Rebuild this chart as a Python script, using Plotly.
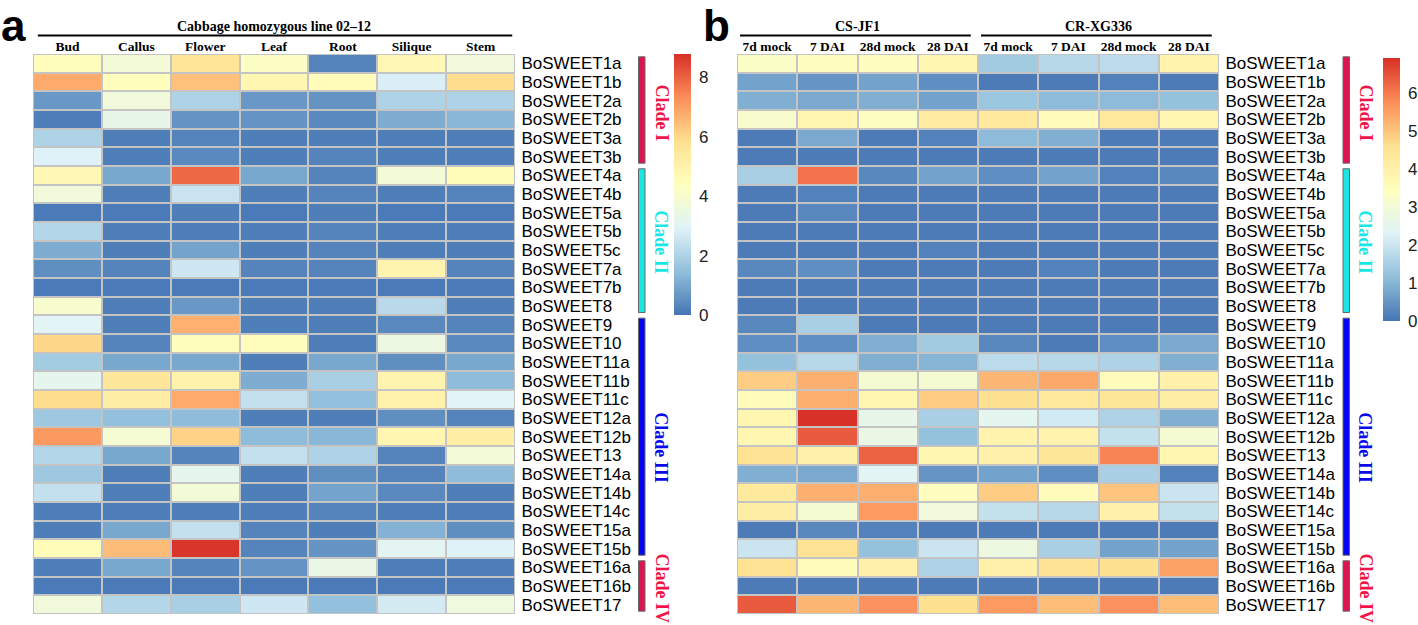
import plotly.graph_objects as go

W, H = 1418, 625

genes = ["BoSWEET1a", "BoSWEET1b", "BoSWEET2a", "BoSWEET2b", "BoSWEET3a", "BoSWEET3b",
         "BoSWEET4a", "BoSWEET4b", "BoSWEET5a", "BoSWEET5b", "BoSWEET5c", "BoSWEET7a",
         "BoSWEET7b", "BoSWEET8", "BoSWEET9", "BoSWEET10", "BoSWEET11a", "BoSWEET11b",
         "BoSWEET11c", "BoSWEET12a", "BoSWEET12b", "BoSWEET13", "BoSWEET14a", "BoSWEET14b",
         "BoSWEET14c", "BoSWEET15a", "BoSWEET15b", "BoSWEET16a", "BoSWEET16b", "BoSWEET17"]

tissues = ["Bud", "Callus", "Flower", "Leaf", "Root", "Silique", "Stem"]
title_a = "Cabbage homozygous line 02\u201312"

conditions = ["7d mock", "7 DAI", "28d mock", "28 DAI", "7d mock", "7 DAI", "28d mock", "28 DAI"]
cultivars = ["CS-JF1", "CR-XG336"]
cultivar_cols = [(0, 3), (4, 7)]

expr_a = [
    [4.5, 3.8, 5.6, 4.3, 0.3, 4.7, 3.7],
    [6.8, 4.5, 6.4, 4.8, 4.6, 2.8, 5.9],
    [0.7, 3.7, 2.0, 0.7, 0.6, 2.0, 2.0],
    [0.2, 3.3, 0.6, 0.6, 0.4, 1.1, 1.3],
    [2.0, 0.2, 0.3, 0.2, 0.2, 0.2, 0.2],
    [2.9, 0.2, 0.4, 0.2, 0.3, 0.2, 0.2],
    [4.7, 1.0, 7.9, 1.0, 0.3, 3.8, 4.6],
    [3.7, 0.2, 2.5, 0.2, 0.3, 0.2, 0.3],
    [0.1, 0.1, 0.2, 0.1, 0.2, 0.1, 0.1],
    [2.1, 0.2, 0.2, 0.2, 0.3, 0.2, 0.2],
    [1.1, 0.2, 0.9, 0.2, 0.3, 0.2, 0.2],
    [0.5, 0.3, 2.6, 0.3, 0.3, 4.9, 0.3],
    [0.1, 0.1, 0.1, 0.1, 0.1, 0.1, 0.1],
    [4.0, 0.2, 0.7, 0.2, 0.2, 2.2, 0.2],
    [3.0, 0.2, 6.7, 0.2, 0.2, 0.4, 0.3],
    [6.0, 0.3, 4.5, 4.5, 0.2, 3.5, 0.4],
    [1.8, 1.0, 1.0, 0.2, 1.0, 0.5, 1.0],
    [3.2, 5.5, 5.0, 1.1, 1.9, 4.9, 1.4],
    [5.9, 5.2, 6.8, 2.4, 1.5, 5.0, 3.0],
    [1.7, 1.5, 1.4, 0.2, 0.2, 0.5, 0.3],
    [7.1, 3.9, 6.1, 1.4, 1.3, 4.8, 5.2],
    [2.1, 1.0, 0.3, 2.4, 2.0, 0.3, 3.8],
    [1.7, 0.2, 3.2, 0.2, 0.5, 0.3, 1.4],
    [2.4, 0.2, 3.8, 0.2, 0.9, 0.4, 0.2],
    [0.2, 0.2, 0.2, 0.2, 0.3, 0.2, 0.2],
    [0.2, 1.0, 2.4, 0.3, 0.2, 1.2, 0.5],
    [4.6, 6.5, 8.7, 0.3, 0.6, 3.1, 2.9],
    [0.2, 1.0, 0.3, 0.6, 3.4, 0.2, 0.2],
    [0.1, 0.1, 0.1, 0.1, 0.1, 0.1, 0.1],
    [3.7, 2.1, 1.9, 2.6, 1.5, 2.7, 3.6],
]

expr_b = [
    [3.3, 3.5, 3.5, 3.8, 1.4, 1.7, 1.8, 3.9],
    [0.7, 0.5, 0.7, 0.4, 0.1, 0.1, 0.2, 0.1],
    [0.9, 0.8, 0.9, 0.7, 1.3, 1.1, 1.1, 1.2],
    [3.2, 3.8, 3.4, 4.2, 4.3, 3.6, 4.3, 3.8],
    [0.1, 0.8, 0.1, 0.2, 1.1, 0.9, 0.1, 0.1],
    [0.1, 0.1, 0.1, 0.1, 0.1, 0.1, 0.1, 0.1],
    [1.5, 6.1, 0.3, 0.7, 0.4, 0.7, 0.2, 0.3],
    [0.1, 0.2, 0.1, 0.1, 0.1, 0.1, 0.1, 0.1],
    [0.1, 0.3, 0.1, 0.1, 0.1, 0.1, 0.1, 0.1],
    [0.1, 0.1, 0.1, 0.1, 0.1, 0.1, 0.1, 0.1],
    [0.1, 0.1, 0.1, 0.2, 0.1, 0.1, 0.1, 0.1],
    [0.3, 0.4, 0.1, 0.1, 0.1, 0.2, 0.1, 0.1],
    [0.1, 0.1, 0.1, 0.1, 0.1, 0.1, 0.1, 0.1],
    [0.1, 0.1, 0.1, 0.1, 0.1, 0.1, 0.1, 0.1],
    [0.3, 1.5, 0.1, 0.1, 0.1, 0.1, 0.1, 0.1],
    [0.4, 0.4, 0.9, 1.4, 0.3, 0.1, 0.4, 0.8],
    [1.2, 1.7, 0.9, 1.0, 1.8, 1.7, 1.6, 0.9],
    [4.9, 5.3, 3.1, 3.1, 5.2, 5.4, 3.6, 4.0],
    [3.6, 5.3, 3.8, 4.9, 4.6, 4.3, 4.4, 4.1],
    [3.8, 6.9, 2.6, 1.5, 2.5, 2.1, 1.6, 0.9],
    [3.8, 6.4, 2.7, 1.2, 3.9, 3.9, 1.9, 3.1],
    [4.5, 4.0, 6.3, 3.8, 4.0, 4.4, 5.9, 3.8],
    [0.9, 0.8, 2.4, 0.5, 0.7, 0.4, 1.5, 0.2],
    [4.3, 5.3, 5.3, 3.5, 4.9, 3.6, 5.0, 2.0],
    [4.1, 3.1, 5.6, 2.9, 1.9, 1.7, 4.0, 1.9],
    [0.1, 0.3, 0.2, 0.1, 0.1, 0.1, 0.1, 0.1],
    [2.0, 4.5, 1.2, 2.0, 2.8, 1.5, 0.7, 0.7],
    [4.5, 3.6, 4.0, 1.6, 4.0, 4.5, 4.6, 5.5],
    [0.1, 0.1, 0.1, 0.1, 0.1, 0.1, 0.1, 0.1],
    [6.4, 5.2, 5.7, 4.6, 5.6, 5.1, 5.7, 5.1],
]

clade_names = ["Clade I", "Clade II", "Clade III", "Clade IV"]
clade_rows = [(0, 5), (6, 13), (14, 26), (27, 29)]
clade_bar_colors = ["#DC1450", "#1AE6E6", "#0505F0", "#DC1450"]
clade_text_colors = ["#F01446", "#1AE6E6", "#0A0AEB", "#F01446"]
clade_text_shift = [-3, -1, -11, -2]

scale_max_a = 8.78
scale_max_b = 6.93

# pheatmap default palette: rev(RdYlBu, 7)
palette = ["#4575B4", "#91BFDB", "#E0F3F8", "#FFFFBF", "#FEE090", "#FC8D59", "#D73027"]
colorscale = [[i / (len(palette) - 1), c] for i, c in enumerate(palette)]

def px_x(p):
    return p / W

def px_y(p):
    return 1 - p / H

dom_ya = [px_y(614), px_y(54)]
dom_xa = [px_x(33), px_x(515)]
dom_xb = [px_x(737), px_x(1219)]

fig = go.Figure()

fig.add_trace(go.Heatmap(
    z=expr_a, x=list(range(len(tissues))), y=list(range(len(genes))),
    coloraxis="coloraxis", xgap=2, ygap=2, xaxis="x", yaxis="y",
))
fig.add_trace(go.Heatmap(
    z=expr_b, x=list(range(len(conditions))), y=list(range(len(genes))),
    coloraxis="coloraxis2", xgap=2, ygap=2, xaxis="x2", yaxis="y2",
))

grid_bg = "#C4C4C4"
col_font = dict(family="Liberation Serif, Times New Roman, serif", size=13.5, color="black")
row_font = dict(family="Liberation Sans, Arial, sans-serif", size=17, color="black")

common_x = dict(side="top", showgrid=False, zeroline=False, showline=False,
                ticks="outside", ticklen=1, tickcolor="rgba(0,0,0,0)",
                ticklabelstandoff=-4,
                tickfont=col_font, fixedrange=True, automargin=False)
common_y = dict(side="right", showgrid=False, zeroline=False, showline=False,
                ticks="outside", ticklen=2, tickcolor="rgba(0,0,0,0)",
                tickfont=row_font, range=[len(genes) - 0.5, -0.5],
                tickvals=list(range(len(genes))), ticktext=genes, fixedrange=True,
                automargin=False)

fig.update_layout(
    width=W, height=H,
    margin=dict(l=0, r=0, t=0, b=0, autoexpand=False),
    paper_bgcolor="white",
    plot_bgcolor=grid_bg,
    showlegend=False,
    xaxis=dict(domain=dom_xa, anchor="y", range=[-0.5, len(tissues) - 0.5],
               tickvals=list(range(len(tissues))),
               ticktext=["<b>%s</b>" % t for t in tissues], **common_x),
    yaxis=dict(domain=dom_ya, anchor="x", **common_y),
    xaxis2=dict(domain=dom_xb, anchor="y2", range=[-0.5, len(conditions) - 0.5],
                tickvals=list(range(len(conditions))),
                ticktext=["<b>%s</b>" % t for t in conditions], **common_x),
    yaxis2=dict(domain=dom_ya, anchor="x2", **common_y),
    coloraxis=dict(
        colorscale=colorscale, cmin=0, cmax=scale_max_a,
        colorbar=dict(
            x=px_x(674), xanchor="left", xpad=0,
            y=px_y(54), yanchor="top", ypad=0,
            lenmode="pixels", len=261, thicknessmode="pixels", thickness=17,
            outlinewidth=0, tickmode="linear", tick0=0, dtick=2,
            ticks="outside", ticklen=5, tickcolor="rgba(0,0,0,0)",
            tickfont=dict(family="Liberation Sans, Arial, sans-serif", size=17, color="#222"),
        ),
    ),
    coloraxis2=dict(
        colorscale=colorscale, cmin=0, cmax=scale_max_b,
        colorbar=dict(
            x=px_x(1383), xanchor="left", xpad=0,
            y=px_y(58), yanchor="top", ypad=0,
            lenmode="pixels", len=263, thicknessmode="pixels", thickness=17,
            outlinewidth=0, tickmode="linear", tick0=0, dtick=1,
            ticks="outside", ticklen=5, tickcolor="rgba(0,0,0,0)",
            tickfont=dict(family="Liberation Sans, Arial, sans-serif", size=17, color="#222"),
        ),
    ),
)

shapes = []
annotations = []
head_font = dict(family="Liberation Serif, Times New Roman, serif", size=14, color="black")
line_y = px_y(35.5)
label_y = px_y(26.5)

# panel a header
shapes.append(dict(type="line", xref="x", yref="paper", x0=-0.43, x1=len(tissues) - 0.54,
                   y0=line_y, y1=line_y, line=dict(color="black", width=2)))
annotations.append(dict(xref="x", yref="paper", x=(len(tissues) - 1) / 2, y=label_y,
                        text="<b>%s</b>" % title_a, showarrow=False, font=head_font,
                        xanchor="center", yanchor="middle"))
# panel b header
for name, (c0, c1) in zip(cultivars, cultivar_cols):
    shapes.append(dict(type="line", xref="x2", yref="paper", x0=c0 - 0.45, x1=c1 + 0.38,
                       y0=line_y, y1=line_y, line=dict(color="black", width=2)))
    annotations.append(dict(xref="x2", yref="paper", x=(c0 + c1) / 2, y=label_y,
                            text="<b>%s</b>" % name, showarrow=False, font=head_font,
                            xanchor="center", yanchor="middle"))

# clade bars and labels
clade_font = "Liberation Serif, Times New Roman, serif"
for yref, bar_x, text_x in [("y", 638.5, 661.5), ("y2", 1343, 1365.5)]:
    for name, (r0, r1), bc, tc, dy in zip(clade_names, clade_rows, clade_bar_colors,
                                           clade_text_colors, clade_text_shift):
        shapes.append(dict(type="rect", xref="paper", yref=yref,
                           x0=px_x(bar_x), x1=px_x(bar_x + 6.5),
                           y0=r0 - 0.5 + 0.15, y1=r1 + 0.5 - 0.15,
                           fillcolor=bc, line=dict(color="#666666", width=1)))
        annotations.append(dict(xref="paper", yref=yref, x=px_x(text_x), y=(r0 + r1) / 2,
                                yshift=dy, text="<b>%s</b>" % name, textangle=90,
                                showarrow=False, xanchor="center", yanchor="middle",
                                font=dict(family=clade_font, size=18, color=tc)))

# panel letters
for letter, xp in [("a", -1), ("b", 701)]:
    annotations.append(dict(xref="paper", yref="paper", x=px_x(xp), y=px_y(-1),
                            text="<b>%s</b>" % letter, showarrow=False,
                            xanchor="left", yanchor="top",
                            font=dict(family="Liberation Sans, Arial, sans-serif", size=44,
                                      color="black")))

fig.update_layout(shapes=shapes, annotations=annotations)
fig.write_html("out.html",
               config={"displayModeBar": False},
               post_script="document.body.style.margin='0';"
                           "document.body.style.overflow='hidden';")
